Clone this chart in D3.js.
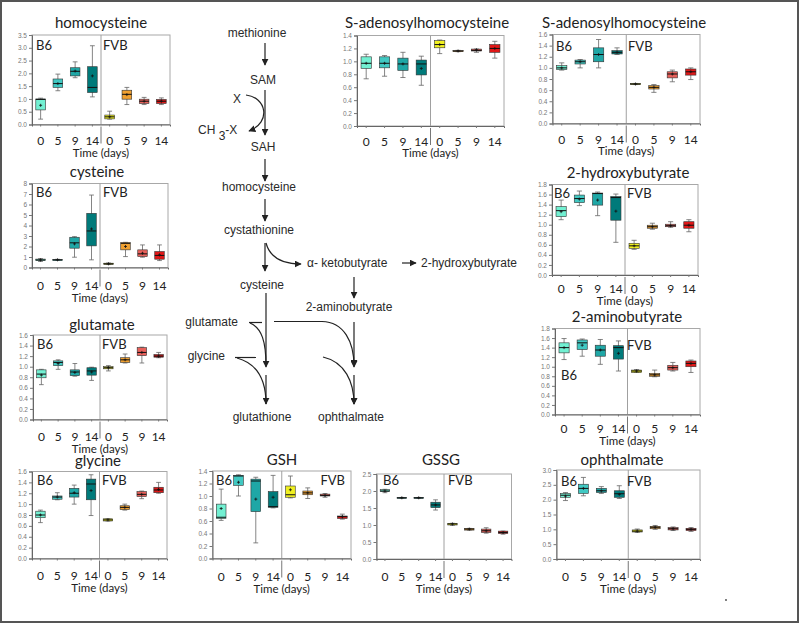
<!DOCTYPE html>
<html><head><meta charset="utf-8">
<script src="https://cdn.jsdelivr.net/npm/d3@7"></script>
<style>body{margin:0;background:#fff}svg{display:block}</style>
</head><body><svg id="c" width="800" height="626"></svg>
<script>
// ---------- DATA ----------
const days = ["0","5","9","14","0","5","9","14"];
const strains = ["B6","B6","B6","B6","FVB","FVB","FVB","FVB"];
const boxColors = ["#72f0d2","#40c8c2","#1fa7a6","#007a7a","#f0f020","#f0a030","#e8605a","#e01818"];
// each row: [min, q1, median, q3, max, mean]
const homocysteine = [[0.21,0.57,0.98,1.0,1.03,0.75],[1.32,1.45,1.6,1.78,1.97,1.6],[1.83,1.9,2.08,2.22,2.45,2.09],[1.08,1.25,1.45,2.26,3.08,1.9],
  [0.21,0.22,0.3,0.37,0.52,0.3],[0.78,0.99,1.18,1.34,1.45,1.17],[0.78,0.82,0.91,0.99,1.06,0.91],[0.78,0.82,0.91,0.98,1.04,0.91]];
const cysteine = [[0.57,0.65,0.72,0.8,0.85,0.72],[0.68,0.7,0.73,0.75,0.78,0.73],[0.98,1.84,2.35,2.88,2.94,2.25],[0.73,2.06,3.48,5.16,6.9,3.67],
  [0.28,0.3,0.35,0.41,0.43,0.35],[1.04,1.68,2.3,2.37,2.4,2.0],[0.98,1.04,1.3,1.68,2.15,1.36],[0.66,0.79,1.15,1.52,2.15,1.2]];
const glutamate = [[0.66,0.79,0.86,0.94,0.95,0.84],[0.95,1.02,1.08,1.11,1.13,1.06],[0.82,0.83,0.9,0.94,1.06,0.89],[0.74,0.84,0.92,0.98,0.99,0.9],
  [0.92,0.96,0.98,1.0,1.02,0.98],[1.07,1.08,1.13,1.17,1.24,1.13],[1.07,1.21,1.27,1.36,1.37,1.27],[1.17,1.18,1.2,1.23,1.27,1.2]];
const glycine = [[0.66,0.75,0.8,0.87,0.89,0.8],[1.08,1.09,1.13,1.15,1.21,1.13],[1.0,1.13,1.2,1.29,1.35,1.21],[0.79,1.08,1.37,1.46,1.54,1.25],
  [0.69,0.69,0.71,0.73,0.73,0.71],[0.89,0.9,0.94,0.97,1.0,0.94],[1.1,1.14,1.18,1.23,1.24,1.18],[1.2,1.21,1.26,1.31,1.4,1.27]];
const sahPlasma = [[0.73,0.89,0.97,1.07,1.11,0.97],[0.77,0.9,0.97,1.07,1.09,0.97],[0.75,0.86,0.96,1.05,1.14,0.96],[0.63,0.79,0.96,1.02,1.08,0.89],
  [1.12,1.21,1.26,1.32,1.33,1.26],[1.15,1.155,1.16,1.165,1.17,1.16],[1.14,1.16,1.17,1.19,1.19,1.18],[1.05,1.14,1.2,1.26,1.31,1.2]];
const sahTissue = [[0.96,0.97,1.0,1.04,1.09,1.0],[1.0,1.07,1.11,1.14,1.15,1.11],[1.0,1.11,1.24,1.36,1.51,1.24],[1.24,1.25,1.28,1.31,1.36,1.28],
  [0.7,0.7,0.71,0.72,0.72,0.71],[0.56,0.62,0.65,0.68,0.7,0.65],[0.75,0.82,0.89,0.93,0.96,0.89],[0.79,0.87,0.93,0.98,1.0,0.93]];
const hydroxybutyrate = [[1.1,1.16,1.28,1.36,1.49,1.26],[1.38,1.44,1.52,1.59,1.67,1.51],[1.18,1.39,1.62,1.63,1.65,1.49],[0.65,1.09,1.54,1.56,1.61,1.27],
  [0.51,0.53,0.58,0.63,0.69,0.58],[0.91,0.93,0.96,0.99,1.03,0.96],[0.95,0.96,0.98,1.01,1.06,0.98],[0.86,0.93,0.99,1.06,1.1,0.99]];
const aminobutyrate = [[1.15,1.29,1.4,1.5,1.59,1.4],[1.22,1.36,1.5,1.56,1.58,1.45],[1.05,1.22,1.35,1.45,1.57,1.35],[0.91,1.16,1.4,1.44,1.54,1.28],
  [0.88,0.88,0.91,0.93,0.94,0.91],[0.79,0.8,0.83,0.86,0.93,0.83],[0.91,0.93,0.98,1.03,1.09,0.98],[0.88,1.0,1.07,1.12,1.14,1.07]];
const ophthalmate = [[1.97,2.08,2.15,2.21,2.24,2.12],[2.13,2.21,2.38,2.52,2.75,2.38],[2.21,2.24,2.3,2.38,2.44,2.3],[2.04,2.08,2.2,2.3,2.47,2.18],
  [0.9,0.91,0.94,0.98,1.01,0.94],[1.0,1.02,1.07,1.1,1.13,1.07],[0.96,0.98,1.02,1.06,1.08,1.02],[0.93,0.96,1.0,1.03,1.06,1.0]];
const gsh = [[0.61,0.64,0.66,0.87,1.11,0.8],[1.0,1.17,1.32,1.33,1.34,1.22],[0.25,0.75,1.24,1.27,1.3,0.95],[0.81,0.82,0.83,1.07,1.33,0.98],
  [0.97,0.98,1.02,1.16,1.32,1.1],[0.96,1.02,1.05,1.08,1.13,1.05],[0.98,1.0,1.01,1.03,1.04,1.01],[0.63,0.64,0.67,0.68,0.71,0.67]];
const gssg = [[1.95,1.98,2.0,2.04,2.05,2.0],[1.79,1.79,1.8,1.81,1.81,1.8],[1.79,1.79,1.8,1.81,1.81,1.8],[1.44,1.51,1.59,1.67,1.74,1.59],
  [0.99,1.0,1.03,1.05,1.05,1.03],[0.85,0.85,0.88,0.9,0.9,0.88],[0.76,0.78,0.83,0.88,0.92,0.83],[0.73,0.75,0.78,0.82,0.82,0.78]];

// ---------- LAYOUT ----------
const panels = [
 {title:"homocysteine", data:homocysteine, L:32, R:170, T:35, B:124.5, max:3.5, step:0.5, fmt:".1f", tx:101, ty:23, b6:[36,45], fvb:[103,45], dY:141, tY:153},
 {title:"cysteine", data:cysteine, L:32, R:168, T:183.5, B:267.5, max:8, step:1, fmt:"d", tx:97, ty:172, b6:[36,192], fvb:[103,192], dY:286, tY:297.5},
 {title:"glutamate", data:glutamate, L:33, R:167, T:335, B:419.5, max:1.6, step:0.2, fmt:".1f", tx:102, ty:325, b6:[37,344], fvb:[102,344], dY:437, tY:448.5},
 {title:"glycine", data:glycine, L:32, R:167, T:471.5, B:558.5, max:1.6, step:0.2, fmt:".1f", tx:98, ty:461, b6:[37,480], fvb:[102,480], dY:576, tY:588},
 {title:"S-adenosylhomocysteine", data:sahPlasma, L:357, R:504, T:35.5, B:126, max:1.4, step:0.2, fmt:".1f", tx:427, ty:22.5, b6:null, fvb:null, dY:141.5, tY:152.5},
 {title:"S-adenosylhomocysteine", data:sahTissue, L:552.5, R:700, T:34.5, B:123.5, max:1.6, step:0.2, fmt:".1f", tx:624, ty:22.5, b6:[556,46.5], fvb:[628,46.5], dY:139.5, tY:151},
 {title:"2-hydroxybutyrate", data:hydroxybutyrate, L:552, R:698, T:184.5, B:275, max:1.8, step:0.2, fmt:".1f", tx:628, ty:173, b6:[554,193.5], fvb:[627,193.5], dY:289, tY:301},
 {title:"2-aminobutyrate", data:aminobutyrate, L:555, R:700, T:328.5, B:414.5, max:1.8, step:0.2, fmt:".1f", tx:627, ty:316.5, b6:[561,375], fvb:[627,345], dY:429, tY:441},
 {title:"ophthalmate", data:ophthalmate, L:556.5, R:700, T:470, B:559, max:3.0, step:0.5, fmt:".1f", tx:622, ty:460, b6:[561,481], fvb:[627,481], dY:576.5, tY:588.5},
 {title:"GSH", data:gsh, L:212.5, R:351, T:471, B:558.5, max:1.4, step:0.2, fmt:".1f", tx:282, ty:460, b6:[216,480], fvb:[345,480,"end"], dY:577, tY:589},
 {title:"GSSG", data:gssg, L:376.5, R:511.5, T:474, B:559, max:2.5, step:0.5, fmt:".1f", tx:441, ty:460, b6:[383,480], fvb:[448,480], dY:577, tY:589}
];

const svg = d3.select("#c");
svg.append("rect").attr("width",800).attr("height",626).attr("fill","#fff");
svg.append("rect").attr("x",1).attr("y",1).attr("width",797).attr("height",621)
  .attr("fill","none").attr("stroke","#555").attr("stroke-width",2);
svg.append("circle").attr("cx",726).attr("cy",600).attr("r",0.9).attr("fill","#444");

const FONT = "Lato, 'Open Sans', sans-serif";

function drawPanel(p){
  const g = svg.append("g");
  const x = d3.scaleBand().domain(d3.range(8)).range([p.L,p.R]);
  const y = d3.scaleLinear().domain([0,p.max]).range([p.B,p.T]);
  const bw = x.bandwidth()*0.56, cw = x.bandwidth()*0.28;
  const cx = i => x(i)+x.bandwidth()/2;
  const mid = (p.L+p.R)/2;

  g.append("rect").attr("x",p.L).attr("y",p.T).attr("width",p.R-p.L).attr("height",p.B-p.T)
    .attr("fill","none").attr("stroke","#a8a8a8").attr("stroke-width",1);
  g.append("line").attr("x1",mid).attr("x2",mid).attr("y1",p.T).attr("y2",p.B).attr("stroke","#a0a0a0");
  g.append("line").attr("x1",mid).attr("x2",mid).attr("y1",p.B+2).attr("y2",p.B+19).attr("stroke","#777");

  const ya = g.append("g").attr("transform",`translate(${p.L},0)`)
    .call(d3.axisLeft(y).tickValues(d3.range(0,p.max+1e-9,p.step)).tickFormat(d3.format(p.fmt)).tickSize(3).tickPadding(2));
  ya.select(".domain").attr("stroke","#666");
  ya.selectAll(".tick line").attr("stroke","#777");
  ya.selectAll("text").attr("font-size",6.5).attr("fill","#777").attr("font-family","'Liberation Sans', Arial, sans-serif");

  const xa = g.append("g").attr("transform",`translate(0,${p.B})`)
    .call(d3.axisBottom(x).tickSize(2).tickFormat(""));
  xa.select(".domain").attr("stroke","#666");
  xa.selectAll(".tick line").attr("stroke","#777");

  const items = g.selectAll(".bx").data(p.data).join("g").attr("class","bx");
  items.append("line").attr("x1",(d,i)=>cx(i)).attr("x2",(d,i)=>cx(i))
    .attr("y1",d=>y(d[4])).attr("y2",d=>y(d[0])).attr("stroke","#666").attr("stroke-width",0.8);
  [0,4].forEach(k=>items.append("line").attr("x1",(d,i)=>cx(i)-cw/2).attr("x2",(d,i)=>cx(i)+cw/2)
    .attr("y1",d=>y(d[k])).attr("y2",d=>y(d[k])).attr("stroke","#666").attr("stroke-width",0.8));
  items.append("rect").attr("x",(d,i)=>cx(i)-bw/2).attr("width",bw)
    .attr("y",d=>y(d[3])).attr("height",d=>Math.max(1,y(d[1])-y(d[3])))
    .attr("fill",(d,i)=>boxColors[i]).attr("stroke","#333").attr("stroke-width",0.6);
  items.append("line").attr("x1",(d,i)=>cx(i)-bw/2).attr("x2",(d,i)=>cx(i)+bw/2)
    .attr("y1",d=>y(d[2])).attr("y2",d=>y(d[2])).attr("stroke","#111").attr("stroke-width",1);
  items.append("path").attr("d",(d,i)=>{const a=cx(i),b=y(d[5]);return `M${a-1.5},${b}H${a+1.5}M${a},${b-1.5}V${b+1.5}`;})
    .attr("stroke","#111").attr("stroke-width",0.8);

  g.append("text").attr("x",p.tx).attr("y",p.ty).attr("dy","0.35em").attr("text-anchor","middle")
    .attr("font-family",FONT).attr("font-size",15).attr("fill","#222").text(p.title);
  if(p.b6) g.append("text").attr("x",p.b6[0]).attr("y",p.b6[1]).attr("dy","0.35em")
    .attr("font-family",FONT).attr("font-size",13).attr("fill","#222").text(strains[0]);
  if(p.fvb) g.append("text").attr("x",p.fvb[0]).attr("y",p.fvb[1]).attr("dy","0.35em").attr("text-anchor",p.fvb[2]||"start")
    .attr("font-family",FONT).attr("font-size",13).attr("fill","#222").text(strains[4]);
  g.selectAll(".dl").data(days).join("text").attr("class","dl")
    .attr("x",(d,i)=>cx(i)).attr("y",p.dY).attr("dy","0.35em").attr("text-anchor","middle")
    .attr("font-family",FONT).attr("font-size",12).attr("fill","#222").text(d=>d);
  g.append("text").attr("x",mid).attr("y",p.tY).attr("dy","0.35em").attr("text-anchor","middle")
    .attr("font-family",FONT).attr("font-size",11.5).attr("fill","#222").text("Time (days)");
}
panels.forEach(drawPanel);

// ---------- PATHWAY ----------
const defs = svg.append("defs");
defs.append("marker").attr("id","ah").attr("viewBox","0 0 10 10").attr("refX",9).attr("refY",5)
  .attr("markerWidth",7).attr("markerHeight",7).attr("markerUnits","userSpaceOnUse").attr("orient","auto")
  .append("path").attr("d","M0,0L10,5L0,10z").attr("fill","#222");

const pw = svg.append("g").attr("font-family","'Liberation Sans', Arial, sans-serif").attr("font-size",12).attr("fill","#2a2a2a");
const nodes = [
 ["methionine",257,33,"middle"],["SAM",263,80,"middle"],["X",237,99,"middle"],["SAH",263,147,"middle"],
 ["homocysteine",259,187,"middle"],["cystathionine",259,230,"middle"],["α- ketobutyrate",307,263,"start"],
 ["2-hydroxybutyrate",421,263,"start"],["cysteine",262,285,"middle"],["2-aminobutyrate",349,307,"middle"],
 ["glutamate",238,322,"end"],["glycine",225,356,"end"],["glutathione",262,417,"middle"],["ophthalmate",351,417,"middle"]
];
pw.selectAll(".nd").data(nodes).join("text").attr("class","nd").attr("x",d=>d[1]).attr("y",d=>d[2]).attr("dy","0.35em")
  .attr("text-anchor",d=>d[3]).text(d=>d[0]);
const ch = pw.append("text").attr("x",198).attr("y",130).attr("dy","0.35em");
ch.append("tspan").text("CH ");
ch.append("tspan").attr("dy",6).text("3");
ch.append("tspan").attr("dy",-6).text("-X");

const arrows = [
 ["M265,43V65",1],["M265,90V135",1],["M246,95C266,97 272,122 249,131",1],["M265,159V181",1],["M265,199V221",1],
 ["M265,243V271",1],["M266,243C270,258 284,264 301,264",1],["M402,263H416",1],["M354,277V298",1],
 ["M266,293V367",1],["M266,375V404",1],["M249,322.5H262",0],["M250,323C262,328 266,342 266,366",0],
 ["M235,357.5H256",0],["M237,358C259,364 266,382 266,404",0],["M274,321.5H322C344,322 354,342 354,366",1],
 ["M354,322V367",1],["M323,357C345,362 354,382 354,404",1],["M354,375V404",1]
];
pw.selectAll(".ar").data(arrows).join("path").attr("class","ar").attr("d",d=>d[0]).attr("fill","none")
  .attr("stroke","#222").attr("stroke-width",1.2).attr("marker-end",d=>d[1]?"url(#ah)":null);
</script></body></html>
